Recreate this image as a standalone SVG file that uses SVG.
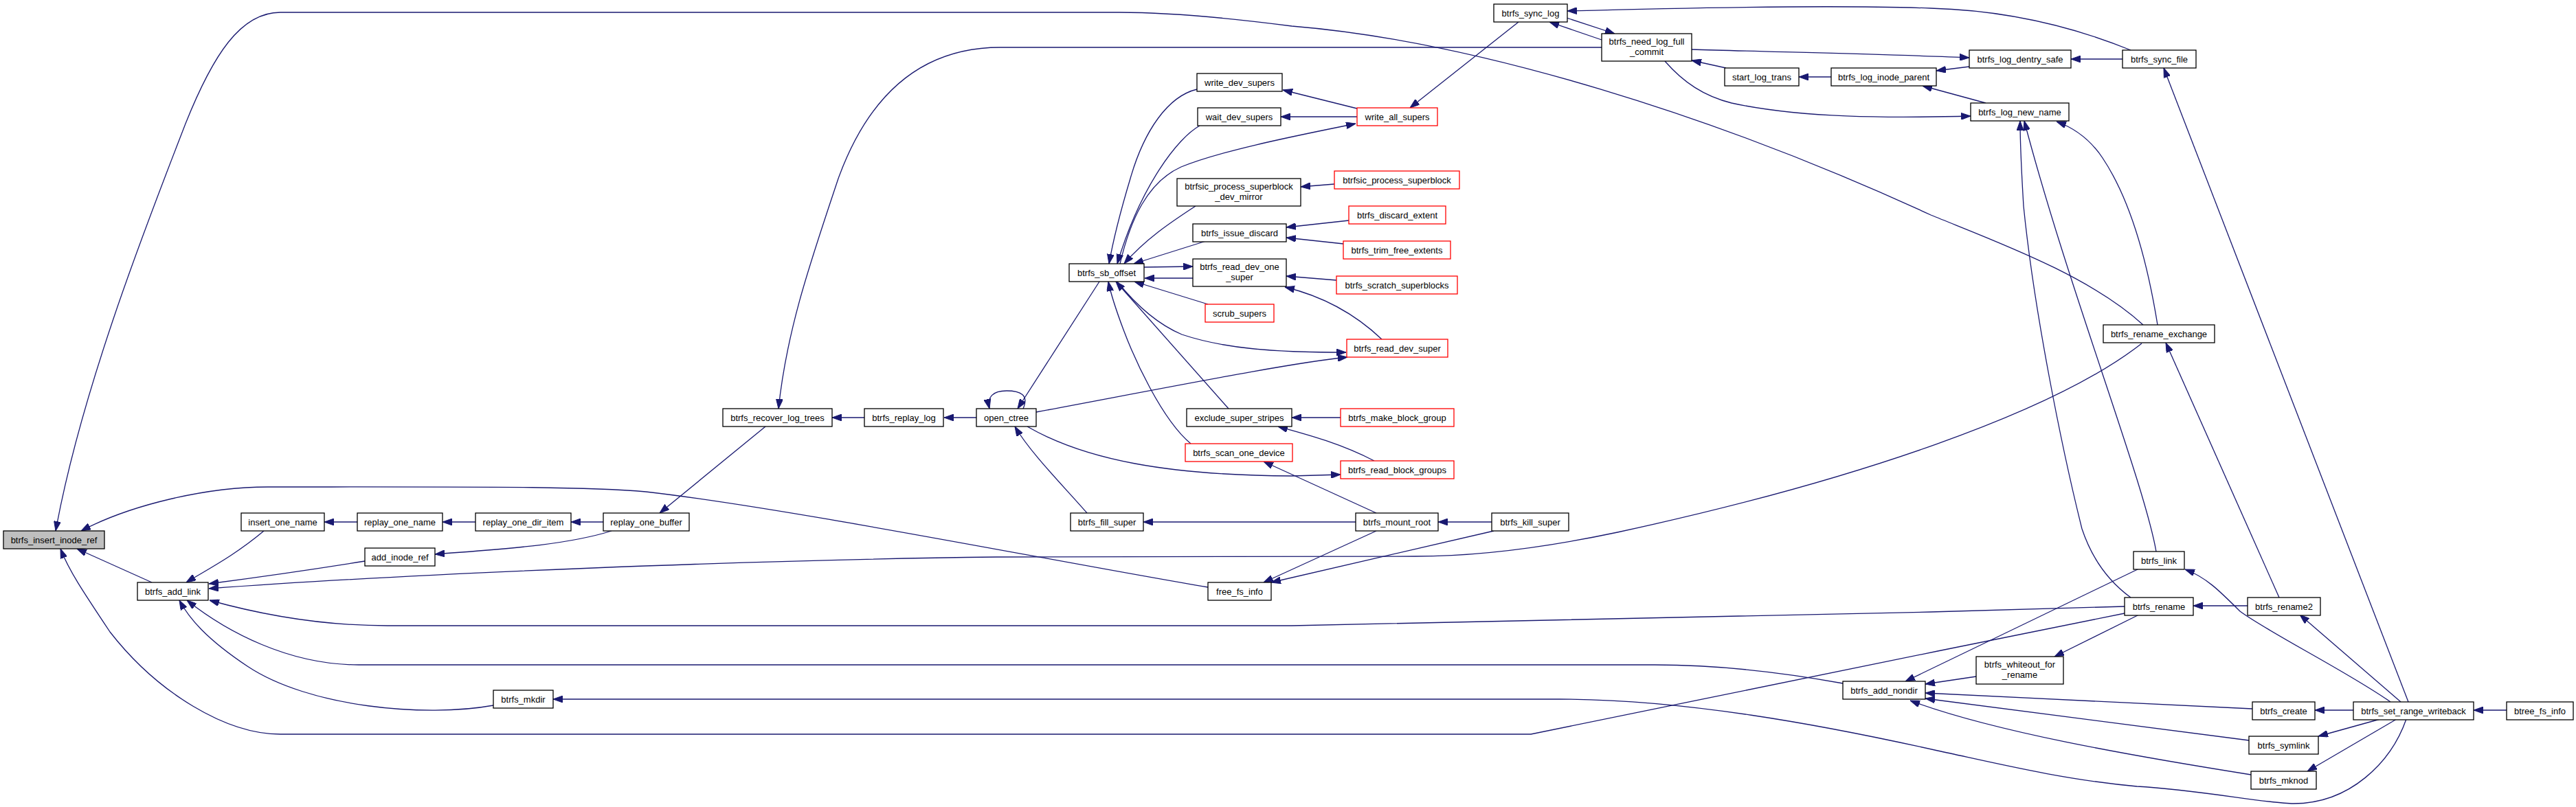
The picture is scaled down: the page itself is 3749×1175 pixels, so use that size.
<svg xmlns="http://www.w3.org/2000/svg" width="3749" height="1175" viewBox="0 0 3749 1175">
<style>
.node rect{fill:#fff;stroke:#000;stroke-width:1.3}
.node.red rect{stroke:#ff0000}
.node.root rect{fill:#bfbfbf}
.node text{font-family:"Liberation Sans",Arial,Helvetica,sans-serif;font-size:13px;fill:#000;text-anchor:middle}
.edges path{fill:none;stroke:#191970;stroke-width:1.3;marker-end:url(#ah)}
</style>
<defs>
<marker id="ah" viewBox="0 0 14 10" refX="14" refY="5" markerWidth="14" markerHeight="10" orient="auto" markerUnits="userSpaceOnUse"><path d="M0,0 L14,5 L0,10 z" fill="#191970" stroke="#191970" stroke-width="1"/></marker>
</defs>
<rect x="0" y="0" width="3749" height="1175" fill="#fff"/>
<g class="edges">
<path d="M221,848 L112,799"/>
<path d="M3119,473 C3040,400 2900,350 2810,313 C2500,170 2150,60 1880,38 C1780,25 1700,18 1629,18 L408,18 C350,18 310,80 270,180 C220,310 120,560 81,773"/>
<path d="M1758,855 C1560,822 1150,740 940,716 C850,708 700,709 390,709 C300,709 190,735 118,773"/>
<path d="M3092,893 L2820,948 L2228,1069 L408,1069 C330,1069 230,1010 160,920 C120,860 100,830 88,799"/>
<path d="M384,773 C340,810 300,830 271,848"/>
<path d="M531,817 C450,830 380,840 304,850"/>
<path d="M3117,500 C2990,600 2700,700 2354,775 C2250,797 2150,810 2060,810 L1450,811 C1100,815 600,835 304,857"/>
<path d="M3092,883 L2810,891 C2400,900 2000,911 1880,911 L564,911 C470,911 380,895 305,874"/>
<path d="M2682,995 C2600,980 2500,968 2408,968 L522,968 C420,968 330,920 272,874"/>
<path d="M718,1027 C620,1045 450,1030 360,970 C300,930 275,900 261,874"/>
<path d="M3502,1047 C3480,1110 3420,1170 3338,1170 C3300,1170 3200,1150 3110,1145 C3000,1135 2900,1110 2820,1093 C2650,1055 2450,1018 2270,1018 L805,1018"/>
<path d="M520,760 L472,760"/>
<path d="M692,760 L644,760"/>
<path d="M878,760 L831,760"/>
<path d="M890,773 C820,795 720,800 633,807"/>
<path d="M1114,621 L960,747"/>
<path d="M1258,608 L1211,608"/>
<path d="M1421,608 L1374,608"/>
<path d="M1489,595 C1498,575 1485,569 1465,569 C1445,569 1436,578 1440,595"/>
<path d="M2331,69 L1456,69 C1330,69 1260,150 1220,260 C1180,380 1145,480 1133,595"/>
<path d="M1600,410 L1481,595"/>
<path d="M1742,130 C1700,140 1665,190 1645,260 C1630,310 1620,350 1614,384"/>
<path d="M1746,183 C1715,200 1660,270 1626,384"/>
<path d="M1630,384 C1645,320 1670,265 1719,243 C1780,218 1900,195 1973,180"/>
<path d="M1740,300 C1710,320 1670,345 1636,384"/>
<path d="M1755,351 L1650,384"/>
<path d="M1665,389 L1736,388"/>
<path d="M1736,405 L1666,405"/>
<path d="M1758,443 L1651,410"/>
<path d="M1626,410 C1650,440 1680,470 1720,487 C1780,507 1850,513 1959,513"/>
<path d="M1508,600 C1700,564 1880,528 1961,520"/>
<path d="M2011,494 C1970,455 1920,430 1870,418"/>
<path d="M1945,408 L1872,402"/>
<path d="M1733,646 C1690,610 1650,520 1635,480 C1620,440 1616,425 1613,410"/>
<path d="M1788,595 L1624,410"/>
<path d="M1942,268 L1893,272"/>
<path d="M1963,321 L1872,331"/>
<path d="M1955,355 L1872,346"/>
<path d="M1975,158 L1867,131"/>
<path d="M1975,170 L1864,170"/>
<path d="M2210,32 L2052,157"/>
<path d="M2331,58 L2255,32"/>
<path d="M2280,26 L2350,49"/>
<path d="M3101,73 C3020,40 2920,15 2810,12 C2700,8 2500,10 2281,16"/>
<path d="M2512,99 L2462,88"/>
<path d="M2665,112 L2618,112"/>
<path d="M2423,89 C2450,120 2480,140 2520,150 C2620,172 2750,172 2868,169"/>
<path d="M2462,72 C2600,76 2780,80 2866,84"/>
<path d="M2866,97 L2818,103"/>
<path d="M2890,150 L2798,125"/>
<path d="M3089,86 L3014,86"/>
<path d="M3505,1022 L3149,99"/>
<path d="M3101,870 C3060,840 3040,800 3030,770 C3000,650 2960,450 2945,300 C2942,250 2940,210 2940,176"/>
<path d="M3138,803 C3120,700 3010,420 2946,176"/>
<path d="M3140,473 C3125,380 3100,290 3060,230 C3040,200 3015,185 2993,177"/>
<path d="M3317,870 L3152,499"/>
<path d="M3271,882 L3192,882"/>
<path d="M3494,1022 L3347,895"/>
<path d="M3479,1022 C3420,980 3300,920 3260,890 C3230,860 3210,840 3180,829"/>
<path d="M3113,828 L2773,992"/>
<path d="M3113,895 L2990,956"/>
<path d="M2876,985 L2802,996"/>
<path d="M3278,1032 L2802,1009"/>
<path d="M3273,1078 L2802,1017"/>
<path d="M3276,1128 C3100,1100 2900,1065 2780,1020"/>
<path d="M3425,1034 L3369,1034"/>
<path d="M3464,1047 L3374,1072"/>
<path d="M3488,1047 L3358,1123"/>
<path d="M3648,1034 L3600,1034"/>
<path d="M1582,747 C1550,710 1500,660 1477,621"/>
<path d="M1973,760 L1664,760"/>
<path d="M2171,760 L2093,760"/>
<path d="M2003,773 L1839,848"/>
<path d="M2174,773 L1850,848"/>
<path d="M2003,747 L1839,672"/>
<path d="M1495,621 C1580,670 1700,692 1880,693 L1951,691"/>
<path d="M1951,608 L1880,608"/>
<path d="M2000,671 C1950,645 1900,632 1860,621"/>
</g>
<g id="n_btrfs_insert_inode_ref" class="node root"><rect x="5" y="773" width="147" height="26"/><text x="78.5" y="790.5">btrfs_insert_inode_ref</text></g>
<g id="n_btrfs_add_link" class="node"><rect x="200" y="848" width="103" height="26"/><text x="251.5" y="865.5">btrfs_add_link</text></g>
<g id="n_insert_one_name" class="node"><rect x="351" y="747" width="121" height="26"/><text x="411.5" y="764.5">insert_one_name</text></g>
<g id="n_replay_one_name" class="node"><rect x="520" y="747" width="124" height="26"/><text x="582" y="764.5">replay_one_name</text></g>
<g id="n_replay_one_dir_item" class="node"><rect x="692" y="747" width="139" height="26"/><text x="761.5" y="764.5">replay_one_dir_item</text></g>
<g id="n_replay_one_buffer" class="node"><rect x="878" y="747" width="125" height="26"/><text x="940.5" y="764.5">replay_one_buffer</text></g>
<g id="n_add_inode_ref" class="node"><rect x="531" y="798" width="102" height="26"/><text x="582" y="815.5">add_inode_ref</text></g>
<g id="n_btrfs_mkdir" class="node"><rect x="718" y="1005" width="87" height="26"/><text x="761.5" y="1022.5">btrfs_mkdir</text></g>
<g id="n_btrfs_recover_log_trees" class="node"><rect x="1052" y="595" width="159" height="26"/><text x="1131.5" y="612.5">btrfs_recover_log_trees</text></g>
<g id="n_btrfs_replay_log" class="node"><rect x="1258" y="595" width="115" height="26"/><text x="1315.5" y="612.5">btrfs_replay_log</text></g>
<g id="n_open_ctree" class="node"><rect x="1421" y="595" width="87" height="26"/><text x="1464.5" y="612.5">open_ctree</text></g>
<g id="n_btrfs_fill_super" class="node"><rect x="1558" y="747" width="106" height="26"/><text x="1611" y="764.5">btrfs_fill_super</text></g>
<g id="n_free_fs_info" class="node"><rect x="1758" y="848" width="92" height="26"/><text x="1804" y="865.5">free_fs_info</text></g>
<g id="n_btrfs_sb_offset" class="node"><rect x="1556" y="384" width="109" height="26"/><text x="1610.5" y="401.5">btrfs_sb_offset</text></g>
<g id="n_write_dev_supers" class="node"><rect x="1742" y="107" width="124" height="26"/><text x="1804" y="124.5">write_dev_supers</text></g>
<g id="n_wait_dev_supers" class="node"><rect x="1743" y="157" width="121" height="26"/><text x="1803.5" y="174.5">wait_dev_supers</text></g>
<g id="n_btrfsic_process_superblock_dev_mirror" class="node"><rect x="1713" y="260" width="180" height="40"/><text x="1803" y="276">btrfsic_process_superblock</text><text x="1803" y="291">_dev_mirror</text></g>
<g id="n_btrfs_issue_discard" class="node"><rect x="1736" y="326" width="136" height="26"/><text x="1804" y="343.5">btrfs_issue_discard</text></g>
<g id="n_btrfs_read_dev_one_super" class="node"><rect x="1736" y="377" width="136" height="40"/><text x="1804" y="393">btrfs_read_dev_one</text><text x="1804" y="408">_super</text></g>
<g id="n_scrub_supers" class="node red"><rect x="1754" y="443" width="100" height="26"/><text x="1804" y="460.5">scrub_supers</text></g>
<g id="n_exclude_super_stripes" class="node"><rect x="1727" y="595" width="153" height="26"/><text x="1803.5" y="612.5">exclude_super_stripes</text></g>
<g id="n_btrfs_scan_one_device" class="node red"><rect x="1725" y="646" width="156" height="26"/><text x="1803" y="663.5">btrfs_scan_one_device</text></g>
<g id="n_write_all_supers" class="node red"><rect x="1975" y="157" width="117" height="26"/><text x="2033.5" y="174.5">write_all_supers</text></g>
<g id="n_btrfsic_process_superblock" class="node red"><rect x="1942" y="249" width="182" height="26"/><text x="2033" y="266.5">btrfsic_process_superblock</text></g>
<g id="n_btrfs_discard_extent" class="node red"><rect x="1963" y="300" width="141" height="26"/><text x="2033.5" y="317.5">btrfs_discard_extent</text></g>
<g id="n_btrfs_trim_free_extents" class="node red"><rect x="1955" y="351" width="156" height="26"/><text x="2033" y="368.5">btrfs_trim_free_extents</text></g>
<g id="n_btrfs_scratch_superblocks" class="node red"><rect x="1945" y="402" width="176" height="26"/><text x="2033" y="419.5">btrfs_scratch_superblocks</text></g>
<g id="n_btrfs_read_dev_super" class="node red"><rect x="1960" y="494" width="147" height="26"/><text x="2033.5" y="511.5">btrfs_read_dev_super</text></g>
<g id="n_btrfs_make_block_group" class="node red"><rect x="1951" y="595" width="165" height="26"/><text x="2033.5" y="612.5">btrfs_make_block_group</text></g>
<g id="n_btrfs_read_block_groups" class="node red"><rect x="1951" y="671" width="165" height="26"/><text x="2033.5" y="688.5">btrfs_read_block_groups</text></g>
<g id="n_btrfs_mount_root" class="node"><rect x="1973" y="747" width="120" height="26"/><text x="2033" y="764.5">btrfs_mount_root</text></g>
<g id="n_btrfs_kill_super" class="node"><rect x="2171" y="747" width="112" height="26"/><text x="2227" y="764.5">btrfs_kill_super</text></g>
<g id="n_btrfs_sync_log" class="node"><rect x="2174" y="6" width="107" height="26"/><text x="2227.5" y="23.5">btrfs_sync_log</text></g>
<g id="n_btrfs_need_log_full_commit" class="node"><rect x="2331" y="49" width="131" height="40"/><text x="2396.5" y="65">btrfs_need_log_full</text><text x="2396.5" y="80">_commit</text></g>
<g id="n_start_log_trans" class="node"><rect x="2510" y="99" width="108" height="26"/><text x="2564" y="116.5">start_log_trans</text></g>
<g id="n_btrfs_log_inode_parent" class="node"><rect x="2665" y="99" width="153" height="26"/><text x="2741.5" y="116.5">btrfs_log_inode_parent</text></g>
<g id="n_btrfs_log_dentry_safe" class="node"><rect x="2866" y="73" width="148" height="26"/><text x="2940" y="90.5">btrfs_log_dentry_safe</text></g>
<g id="n_btrfs_sync_file" class="node"><rect x="3089" y="73" width="107" height="26"/><text x="3142.5" y="90.5">btrfs_sync_file</text></g>
<g id="n_btrfs_log_new_name" class="node"><rect x="2868" y="150" width="143" height="26"/><text x="2939.5" y="167.5">btrfs_log_new_name</text></g>
<g id="n_btrfs_rename_exchange" class="node"><rect x="3061" y="473" width="162" height="26"/><text x="3142" y="490.5">btrfs_rename_exchange</text></g>
<g id="n_btrfs_add_nondir" class="node"><rect x="2682" y="992" width="120" height="26"/><text x="2742" y="1009.5">btrfs_add_nondir</text></g>
<g id="n_btrfs_link" class="node"><rect x="3105" y="803" width="74" height="26"/><text x="3142" y="820.5">btrfs_link</text></g>
<g id="n_btrfs_rename" class="node"><rect x="3092" y="870" width="100" height="26"/><text x="3142" y="887.5">btrfs_rename</text></g>
<g id="n_btrfs_rename2" class="node"><rect x="3271" y="870" width="106" height="26"/><text x="3324" y="887.5">btrfs_rename2</text></g>
<g id="n_btrfs_whiteout_for_rename" class="node"><rect x="2876" y="956" width="127" height="40"/><text x="2939.5" y="972">btrfs_whiteout_for</text><text x="2939.5" y="987">_rename</text></g>
<g id="n_btrfs_create" class="node"><rect x="3278" y="1022" width="91" height="26"/><text x="3323.5" y="1039.5">btrfs_create</text></g>
<g id="n_btrfs_set_range_writeback" class="node"><rect x="3425" y="1022" width="175" height="26"/><text x="3512.5" y="1039.5">btrfs_set_range_writeback</text></g>
<g id="n_btree_fs_info" class="node"><rect x="3648" y="1022" width="97" height="26"/><text x="3696.5" y="1039.5">btree_fs_info</text></g>
<g id="n_btrfs_symlink" class="node"><rect x="3273" y="1072" width="101" height="26"/><text x="3323.5" y="1089.5">btrfs_symlink</text></g>
<g id="n_btrfs_mknod" class="node"><rect x="3276" y="1123" width="95" height="26"/><text x="3323.5" y="1140.5">btrfs_mknod</text></g>
</svg>
